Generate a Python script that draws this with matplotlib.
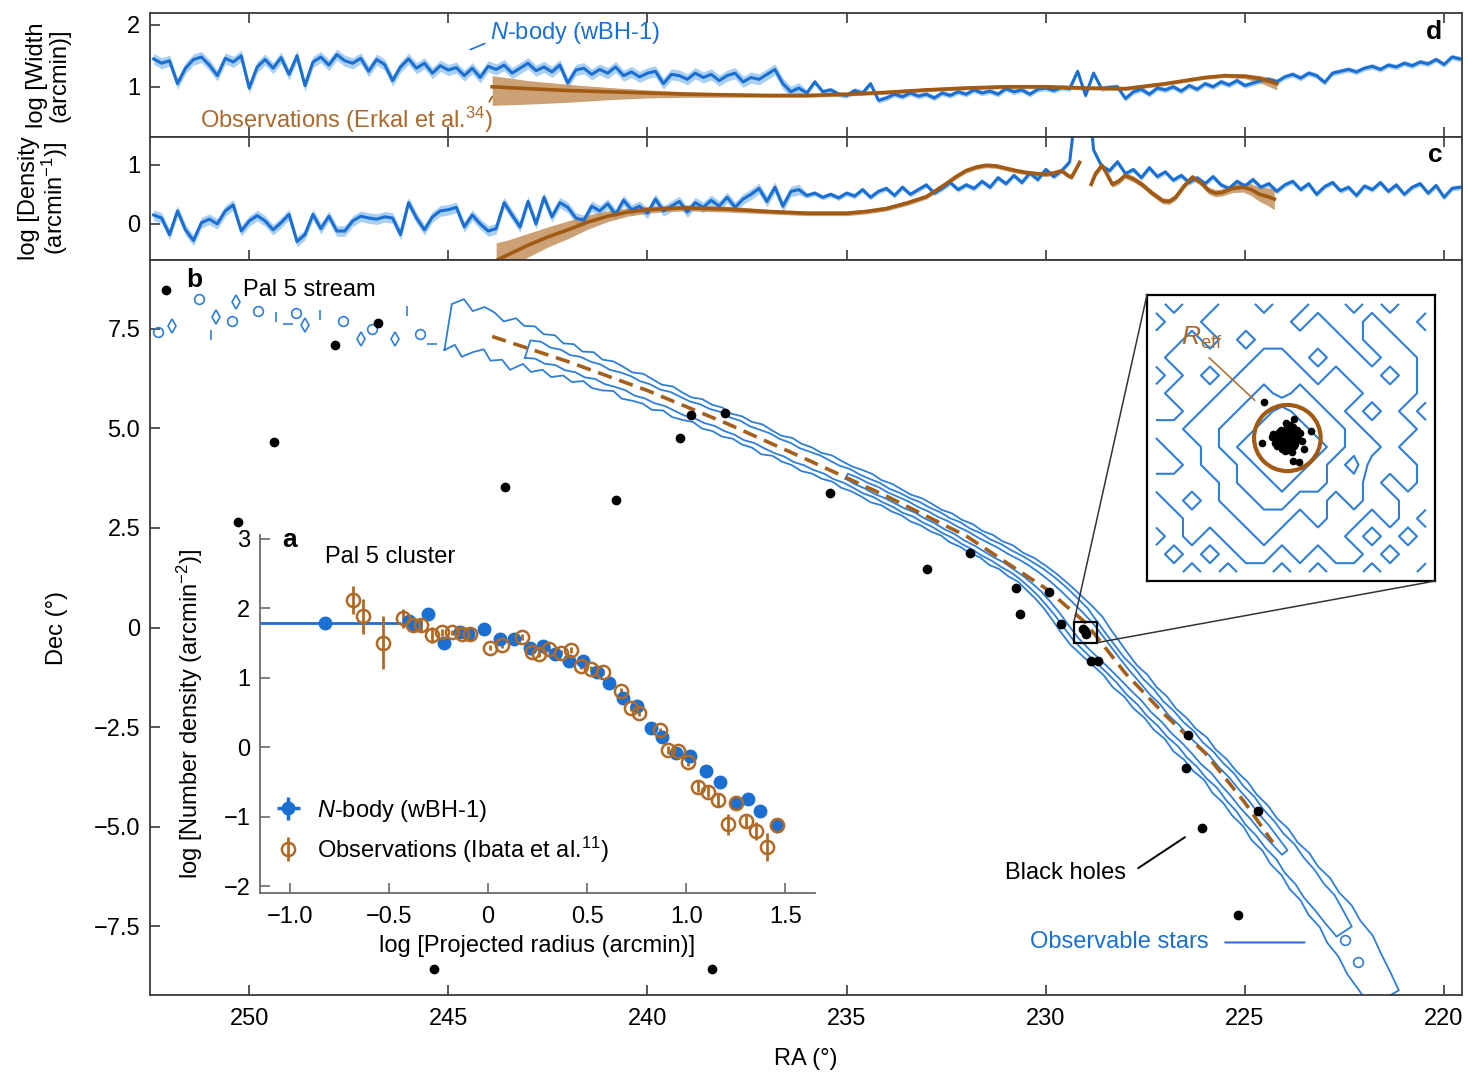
import numpy as np
import matplotlib
matplotlib.use("Agg")
import matplotlib.pyplot as plt
from matplotlib.patches import Rectangle, Circle, ConnectionPatch

plt.rcParams['font.family'] = ['Liberation Sans', 'DejaVu Sans']
plt.rcParams['mathtext.fontset'] = 'custom'
plt.rcParams['mathtext.rm'] = 'Liberation Sans'
plt.rcParams['mathtext.it'] = 'Liberation Sans:italic'
plt.rcParams['font.size'] = 17
plt.rcParams['axes.edgecolor'] = '#3a3a3a'
plt.rcParams['axes.linewidth'] = 1.3
plt.rcParams['xtick.direction'] = 'in'
plt.rcParams['ytick.direction'] = 'in'
plt.rcParams['xtick.color'] = '#3a3a3a'
plt.rcParams['ytick.color'] = '#3a3a3a'
plt.rcParams['xtick.labelcolor'] = 'black'
plt.rcParams['ytick.labelcolor'] = 'black'

BLUE = '#1a6fd1'
BLUE_BAND = '#a9cff3'
CONT = '#2f7fd6'
BROWN = '#a05a14'
BROWN_BAND = '#c08a52'
BROWN_TXT = '#a86a2e'

# ---------------- panels d / c : N-body profiles (RA grid 252.4 ... 219.6, step 0.2)
ra_grid = np.round(np.arange(252.4, 219.5, -0.2), 1)

nbody_width = [
    1.45, 1.38, 1.42, 1.05, 1.30, 1.44, 1.48, 1.35, 1.18, 1.46,
    1.40, 1.50, 0.98, 1.32, 1.44, 1.30, 1.47, 1.20, 1.50, 1.02,
    1.40, 1.48, 1.35, 1.52, 1.42, 1.38, 1.46, 1.25, 1.44, 1.36,
    1.10, 1.32, 1.45, 1.30, 1.38, 1.22, 1.34, 1.27, 1.31, 1.18,
    1.30, 1.15, 1.33, 1.28, 1.35, 1.22, 1.30, 1.38, 1.26, 1.32,
    1.24, 1.35, 1.06, 1.27, 1.30, 1.20, 1.28, 1.22, 1.32, 1.18,
    1.24, 1.16, 1.22, 1.25, 1.05, 1.20, 1.18, 1.12, 1.22, 1.15,
    1.20, 1.10, 1.18, 1.22, 1.08, 1.15, 1.12, 1.20, 1.28, 1.05,
    0.92, 0.98, 0.90, 1.08, 0.92, 0.95, 0.88, 0.86, 0.94, 0.90,
    1.05, 0.78, 0.82, 0.88, 0.84, 0.90, 0.85, 0.88, 0.82, 0.90,
    0.86, 0.92, 0.88, 0.95, 0.90, 0.93, 0.88, 0.97, 0.92, 0.95,
    0.88, 0.96, 0.98, 0.94, 0.99, 0.97, 1.25, 0.86, 1.22, 0.97,
    0.99, 1.00, 0.81, 0.92, 0.96, 0.88, 0.98, 0.95, 1.00, 0.93,
    1.02, 0.96, 1.05, 1.00, 1.08, 1.03, 1.10, 1.02, 1.06, 1.10,
    1.12, 1.08, 1.16, 1.20, 1.14, 1.22, 1.18, 1.07, 1.22, 1.25,
    1.28, 1.24, 1.30, 1.33, 1.28, 1.35, 1.32, 1.38, 1.34, 1.40,
    1.37, 1.44, 1.36, 1.48, 1.45]

nbody_density = [
    0.15, 0.10, -0.18, 0.22, -0.10, -0.28, 0.02, 0.08, 0.00, 0.22,
    0.32, -0.12, 0.05, 0.14, 0.05, -0.10, 0.02, 0.16, -0.30, -0.18,
    0.16, -0.08, 0.13, -0.12, -0.12, 0.05, 0.13, 0.10, 0.08, 0.12,
    0.10, -0.18, 0.36, 0.10, -0.10, 0.12, 0.22, 0.24, 0.28, -0.05,
    0.15, 0.00, -0.12, -0.08, 0.36, 0.15, -0.05, 0.38, 0.00, 0.45,
    0.12, 0.36, 0.28, 0.10, 0.06, 0.30, 0.22, 0.34, 0.16, 0.40,
    0.24, 0.30, 0.18, 0.42, 0.22, 0.30, 0.38, 0.20, 0.36, 0.28,
    0.40, 0.30, 0.45, 0.28, 0.42, 0.50, 0.60, 0.38, 0.62, 0.30,
    0.55, 0.58, 0.48, 0.52, 0.45, 0.50, 0.44, 0.52, 0.47, 0.58,
    0.45, 0.55, 0.60, 0.48, 0.62, 0.50, 0.58, 0.66, 0.52, 0.60,
    0.70, 0.58, 0.66, 0.60, 0.72, 0.62, 0.78, 0.68, 0.82, 0.70,
    0.86, 0.75, 0.92, 0.80, 0.90, 1.05, 2.20, 2.80, 1.25, 0.98,
    0.90, 1.05, 0.85, 0.92, 0.78, 0.95, 0.80, 0.88, 0.74, 0.82,
    0.70, 0.78, 0.68, 0.80, 0.66, 0.60, 0.72, 0.64, 0.75, 0.62,
    0.68, 0.55, 0.66, 0.72, 0.58, 0.68, 0.50, 0.63, 0.70, 0.56,
    0.62, 0.48, 0.64, 0.58, 0.70, 0.55, 0.66, 0.50, 0.62, 0.68,
    0.52, 0.65, 0.45, 0.60, 0.62]

# uncertainty of the N-body curves (tail beyond RA 236 is noisier)
nbody_err_tail, nbody_err_core = 0.09, 0.045

# observations, Erkal et al. (width)
ra_obs_w = [243.9, 243.0, 242.0, 241.0, 240.0, 239.0, 238.0, 237.0, 236.0, 235.0, 234.0, 233.0,
            232.0, 231.0, 230.0, 229.0, 228.0, 227.0, 226.5, 226.0, 225.5, 225.0, 224.6, 224.2]
obs_w = [1.00, 0.97, 0.94, 0.92, 0.90, 0.88, 0.87, 0.86, 0.86, 0.88, 0.91, 0.95,
         0.98, 1.00, 1.00, 0.98, 0.97, 1.05, 1.10, 1.15, 1.18, 1.17, 1.13, 1.05]
obs_w_hi = [1.18, 1.10, 1.04, 0.99, 0.95, 0.92, 0.90, 0.89, 0.89, 0.91, 0.94, 0.98,
            1.01, 1.03, 1.03, 1.01, 1.00, 1.08, 1.13, 1.18, 1.21, 1.21, 1.18, 1.13]
obs_w_lo = [0.70, 0.72, 0.75, 0.79, 0.82, 0.83, 0.83, 0.83, 0.83, 0.85, 0.88, 0.92,
            0.95, 0.97, 0.97, 0.95, 0.94, 1.02, 1.07, 1.12, 1.15, 1.13, 1.06, 0.95]

# observations (density), trailing and leading side of the cluster
ra_obs_d1 = [243.8, 243.5, 243.0, 242.5, 242.0, 241.5, 241.0, 240.5, 240.0, 239.5, 239.0, 238.0,
             237.0, 236.0, 235.0, 234.5, 234.0, 233.5, 233.0, 232.75, 232.5, 232.25, 232.0, 231.75,
             231.5, 231.25, 231.0, 230.75, 230.5, 230.25, 230.0, 229.8, 229.6, 229.45, 229.35, 229.15]
obs_d1 = [-0.62, -0.52, -0.36, -0.22, -0.10, 0.03, 0.13, 0.20, 0.24, 0.26, 0.27, 0.25,
          0.21, 0.18, 0.18, 0.21, 0.26, 0.35, 0.46, 0.57, 0.68, 0.80, 0.90, 0.96,
          0.99, 0.98, 0.94, 0.90, 0.87, 0.85, 0.84, 0.86, 0.90, 0.82, 0.79, 1.04]
err_d1 = [0.30, 0.25, 0.20, 0.17, 0.15, 0.12, 0.09, 0.07, 0.06, 0.05, 0.05, 0.05,
          0.04, 0.04, 0.04, 0.04, 0.04, 0.04, 0.04, 0.04, 0.04, 0.04, 0.04, 0.04,
          0.04, 0.04, 0.04, 0.04, 0.04, 0.04, 0.04, 0.04, 0.04, 0.04, 0.04, 0.04]
ra_obs_d2 = [228.86, 228.75, 228.59, 228.47, 228.33, 228.17, 228.01, 227.8, 227.59, 227.33, 227.06,
             226.9, 226.74, 226.53, 226.32, 226.11, 225.9, 225.74, 225.58, 225.31, 225.05, 224.84,
             224.63, 224.42, 224.26]
obs_d2 = [0.67, 0.85, 0.99, 0.85, 0.67, 0.72, 0.82, 0.76, 0.67, 0.52, 0.39,
          0.38, 0.45, 0.64, 0.79, 0.70, 0.56, 0.52, 0.53, 0.60, 0.62, 0.58,
          0.50, 0.46, 0.42]
err_d2 = [0.05, 0.05, 0.05, 0.05, 0.05, 0.05, 0.05, 0.05, 0.05, 0.05, 0.05,
          0.05, 0.05, 0.05, 0.05, 0.05, 0.06, 0.06, 0.06, 0.07, 0.08, 0.10,
          0.12, 0.15, 0.18]

# ---------------- panel b : stream on the sky (track every 0.25 deg of RA, 245.0 ... 221.5)
track_ra = np.round(np.arange(245.0, 221.4, -0.25), 2)
track_dec = [7.58, 7.54, 7.48, 7.42, 7.35, 7.27, 7.18, 7.10, 7.02, 6.94,
             6.85, 6.76, 6.67, 6.59, 6.50, 6.41, 6.31, 6.22, 6.12, 6.02,
             5.92, 5.82, 5.72, 5.62, 5.52, 5.42, 5.32, 5.22, 5.11, 5.01,
             4.90, 4.79, 4.68, 4.57, 4.46, 4.35, 4.24, 4.13, 4.02, 3.91,
             3.80, 3.68, 3.56, 3.44, 3.32, 3.20, 3.08, 2.96, 2.83, 2.70,
             2.57, 2.44, 2.30, 2.16, 2.02, 1.88, 1.74, 1.59, 1.43, 1.24,
             1.03, 0.78, 0.51, 0.22, -0.08, -0.37, -0.65, -0.93, -1.21, -1.48,
             -1.75, -2.02, -2.29, -2.55, -2.81, -3.06, -3.32, -3.58, -3.86, -4.15,
             -4.45, -4.75, -5.05, -5.35, -5.65, -5.96, -6.27, -6.59, -6.92, -7.27,
             -7.63, -8.02, -8.45, -8.88, -9.32]
nan = np.nan
# half widths (deg) of the star-count contours on each side of the track
w_out_a = [0.62, 0.45, 0.70, 0.52, 0.38, 0.60, 0.48, 0.66, 0.42, 0.55,
           0.40, 0.50, 0.36, 0.45, 0.33, 0.42, 0.38, 0.30, 0.40, 0.35,
           0.32, 0.38, 0.29, 0.36, 0.33, 0.28, 0.35, 0.31, 0.34, 0.29,
           0.33, 0.30, 0.36, 0.28, 0.32, 0.30, 0.34, 0.29, 0.31, 0.27,
           0.32, 0.29, 0.30, 0.33, 0.28, 0.31, 0.29, 0.33, 0.30, 0.32,
           0.29, 0.34, 0.31, 0.33, 0.30, 0.35, 0.32, 0.36, 0.34, 0.38,
           0.40, 0.42, 0.46, 0.50, 0.52, 0.48, 0.44, 0.40, 0.43, 0.38,
           0.41, 0.37, 0.40, 0.36, 0.42, 0.38, 0.41, 0.37, 0.43, 0.39,
           0.42, 0.38, 0.44, 0.40, 0.46, 0.42, 0.48, 0.44, 0.50, 0.45,
           0.52, 0.47, 0.50, 0.45, 0.40]
w_out_b = [0.55, 0.72, 0.48, 0.65, 0.58, 0.44, 0.62, 0.50, 0.57, 0.45,
           0.52, 0.40, 0.47, 0.36, 0.44, 0.34, 0.40, 0.36, 0.31, 0.38,
           0.34, 0.30, 0.36, 0.31, 0.28, 0.34, 0.30, 0.33, 0.28, 0.32,
           0.29, 0.34, 0.30, 0.27, 0.33, 0.29, 0.31, 0.28, 0.33, 0.30,
           0.28, 0.31, 0.33, 0.29, 0.32, 0.30, 0.28, 0.32, 0.31, 0.29,
           0.33, 0.30, 0.34, 0.31, 0.35, 0.33, 0.37, 0.34, 0.38, 0.40,
           0.42, 0.45, 0.48, 0.52, 0.55, 0.50, 0.46, 0.42, 0.39, 0.42,
           0.38, 0.41, 0.37, 0.40, 0.38, 0.42, 0.37, 0.40, 0.38, 0.42,
           0.39, 0.43, 0.40, 0.45, 0.41, 0.47, 0.43, 0.49, 0.45, 0.52,
           0.48, 0.54, 0.49, 0.46, 0.42]
w_mid_a = [nan] * 8 + [0.26, 0.20, 0.24, 0.18, 0.22, 0.19, 0.23, 0.18, 0.21, 0.19,
                       0.17, 0.21, 0.18, 0.20, 0.17, 0.19, 0.21, 0.18, 0.20, 0.17,
                       0.19, 0.18, 0.21, 0.17, 0.19, 0.20, 0.18, 0.21, 0.18, 0.19,
                       0.17, 0.20, 0.18, 0.19, 0.21, 0.18, 0.20, 0.19, 0.22, 0.19,
                       0.21, 0.20, 0.22, 0.21, 0.23, 0.22, 0.24, 0.23, 0.25, 0.24,
                       0.26, 0.28, 0.30, 0.32, 0.34, 0.37, 0.39, 0.36, 0.33, 0.30,
                       0.28, 0.30, 0.27, 0.29, 0.26, 0.28, 0.25, 0.29, 0.27, 0.30,
                       0.26, 0.29, 0.27, 0.31, 0.28, 0.30, 0.27, 0.32, 0.29, 0.33,
                       0.30, 0.28, 0.24] + [nan] * 4
w_mid_b = [nan] * 8 + [0.20, 0.25, 0.19, 0.23, 0.18, 0.22, 0.19, 0.21, 0.17, 0.20,
                       0.21, 0.18, 0.20, 0.17, 0.21, 0.19, 0.17, 0.20, 0.18, 0.21,
                       0.18, 0.20, 0.17, 0.19, 0.21, 0.18, 0.20, 0.17, 0.19, 0.21,
                       0.19, 0.17, 0.20, 0.18, 0.19, 0.21, 0.18, 0.20, 0.19, 0.21,
                       0.20, 0.22, 0.20, 0.23, 0.21, 0.24, 0.22, 0.25, 0.24, 0.26,
                       0.27, 0.30, 0.32, 0.35, 0.37, 0.40, 0.37, 0.34, 0.31, 0.28,
                       0.30, 0.27, 0.29, 0.26, 0.29, 0.27, 0.30, 0.26, 0.29, 0.27,
                       0.30, 0.27, 0.31, 0.28, 0.30, 0.28, 0.32, 0.29, 0.31, 0.28,
                       0.32, 0.27, 0.22] + [nan] * 4
w_in = [nan] * 40 + [0.07, 0.09, 0.08, 0.10, 0.08, 0.09, 0.10, 0.08, 0.10, 0.09,
                     0.11, 0.10, 0.12, 0.11, 0.12, 0.13, 0.12, 0.14, 0.15, 0.16,
                     0.17, 0.19, 0.21, 0.24, 0.26, 0.24, 0.21, 0.18, 0.16, 0.15,
                     0.13, 0.15, 0.12, 0.14, 0.12, 0.13, 0.15, 0.12, 0.14, 0.13,
                     0.14, 0.12, 0.13, 0.11, 0.09] + [nan] * 10

# isolated fragments of the far tails
frag_ra = [252.28, 251.93, 251.25, 250.95, 250.83, 250.43, 250.33, 249.77, 249.32, 249.02,
           248.82, 248.59, 248.22, 247.64, 247.19, 246.91, 246.34, 245.71, 245.41, 246.05,
           222.49, 222.16]
frag_dec = [7.41, 7.56, 8.24, 7.34, 7.81, 7.71, 8.17, 7.94, 7.79, 7.61,
            7.89, 7.59, 7.84, 7.69, 7.24, 7.49, 7.24, 7.36, 7.11, 7.95,
            -7.84, -8.39]
frag_marker = ['o', 'd', 'o', '|', 'd', 'o', 'd', 'o', '|', '_', 'o', 'd', '|', 'o', 'd', 'o',
               'd', 'o', '_', '|', 'o', 'o']

# observed stream track (Erkal et al.)
obs_track_ra = [243.9, 242.0, 240.0, 238.0, 236.0, 234.0, 232.0, 230.0, 229.0, 228.0, 227.0, 226.0, 225.0, 224.3]
obs_track_dec = [7.31, 6.68, 5.95, 5.12, 4.22, 3.30, 2.30, 0.98, 0.12, -1.15, -2.20, -3.15, -4.40, -5.40]

# black holes
bh_ra = [252.08, 249.37, 250.28, 247.84, 246.76, 243.57, 240.79, 245.36, 238.38, 239.18, 238.91,
         238.05, 235.42, 232.98, 231.90, 230.75, 230.65, 229.92, 229.62, 229.02, 229.06, 228.98,
         228.87, 228.69, 226.43, 226.48, 224.67, 226.08, 225.18]
bh_dec = [8.47, 4.65, 2.64, 7.09, 7.66, 3.52, 3.19, -8.57, -8.57, 4.77, 5.33,
          5.38, 3.37, 1.48, 1.88, 0.98, 0.33, 0.90, 0.10, -0.10, -0.04, -0.16,
          -0.83, -0.85, -2.69, -3.52, -4.62, -5.03, -7.21]

box_ra = [229.29, 228.71]
box_dec = [0.15, -0.38]

# ---------------- panel a : surface density profile
nb_logr = [-0.82, -0.40, -0.37, -0.30, -0.22, -0.14, -0.10, -0.02, 0.06, 0.13, 0.21, 0.28, 0.34, 0.41, 0.48,
           0.55, 0.61, 0.68, 0.75, 0.82, 0.88, 0.95, 1.02, 1.10, 1.17, 1.25, 1.31, 1.37, 1.46]
nb_logd = [1.78, 1.82, 1.75, 1.91, 1.50, 1.65, 1.62, 1.70, 1.55, 1.56, 1.43, 1.46, 1.34, 1.24, 1.24,
           1.08, 0.92, 0.71, 0.59, 0.27, 0.15, -0.09, -0.13, -0.35, -0.50, -0.80, -0.74, -0.92, -1.14]
nb_first_xerr = [0.33, 0.38]

ib_logr = [-0.68, -0.63, -0.53, -0.43, -0.38, -0.34, -0.28, -0.23, -0.18, -0.13, -0.09, 0.01, 0.07,
           0.17, 0.22, 0.26, 0.31, 0.37, 0.42, 0.47, 0.52, 0.58, 0.67, 0.72, 0.76, 0.87, 0.91, 0.96,
           1.01, 1.06, 1.11, 1.16, 1.21, 1.25, 1.30, 1.35, 1.41, 1.46]
ib_logd = [2.11, 1.88, 1.50, 1.85, 1.75, 1.76, 1.61, 1.65, 1.65, 1.62, 1.62, 1.43, 1.47,
           1.58, 1.37, 1.34, 1.41, 1.36, 1.40, 1.17, 1.12, 1.08, 0.81, 0.56, 0.49, 0.24, -0.04, -0.06,
           -0.21, -0.57, -0.64, -0.76, -1.11, -0.81, -1.07, -1.21, -1.44, -1.12]
ib_err = [0.20, 0.25, 0.38, 0.13, 0.10, 0.10, 0.12, 0.05, 0.04, 0.04, 0.04, 0.04, 0.04,
          0.04, 0.04, 0.04, 0.04, 0.04, 0.04, 0.04, 0.04, 0.04, 0.04, 0.04, 0.04, 0.04, 0.06, 0.04,
          0.06, 0.08, 0.08, 0.10, 0.15, 0.06, 0.10, 0.13, 0.20, 0.04]

# ---------------- zoom on the cluster: binned star counts (rows top -> bottom)
zoom_counts = [
    [0, 1, 0, 0, 1, 1, 0, 1, 1, 0, 0, 1, 0, 1, 0, 0],
    [1, 0, 0, 1, 1, 1, 1, 1, 0, 1, 0, 0, 1, 0, 0, 1],
    [0, 0, 1, 0, 1, 2, 1, 1, 1, 1, 1, 0, 1, 1, 0, 0],
    [0, 1, 1, 1, 1, 1, 2, 2, 1, 2, 1, 1, 0, 1, 1, 0],
    [1, 0, 1, 2, 1, 2, 2, 2, 2, 1, 2, 1, 1, 2, 1, 0],
    [0, 1, 1, 1, 2, 2, 3, 2, 3, 2, 2, 2, 1, 1, 1, 0],
    [0, 0, 1, 2, 2, 3, 3, 4, 3, 3, 2, 1, 2, 1, 0, 1],
    [1, 1, 2, 2, 3, 3, 4, 5, 4, 3, 3, 2, 1, 1, 1, 0],
    [0, 1, 1, 2, 3, 4, 5, 5, 5, 4, 3, 2, 2, 1, 0, 0],
    [0, 0, 1, 2, 2, 3, 4, 5, 4, 3, 2, 3, 1, 1, 1, 0],
    [1, 1, 1, 1, 2, 3, 3, 4, 3, 3, 2, 2, 1, 0, 1, 0],
    [0, 1, 2, 1, 2, 2, 3, 3, 2, 2, 1, 2, 1, 1, 0, 0],
    [0, 0, 1, 1, 1, 2, 2, 2, 1, 2, 1, 1, 0, 1, 0, 1],
    [1, 0, 1, 0, 1, 1, 2, 1, 1, 1, 1, 0, 1, 0, 1, 0],
    [0, 1, 0, 1, 0, 1, 1, 0, 1, 0, 1, 1, 0, 1, 0, 0],
    [0, 0, 1, 0, 1, 0, 0, 1, 0, 1, 0, 0, 1, 0, 0, 1]]
zoom_center = (7.8, 8.0)
reff = 1.85
zbh_dx = [0.0, 0.2, -0.2, 0.1, -0.1, 0.3, -0.3, 0.15, -0.15, 0.05, 0.25, -0.25, 0.4, -0.4, 0.35, -0.35,
          0.1, -0.05, 0.2, -0.2, 0.5, -0.5, 0.45, -0.45, 0.6, -0.6, 0.3, -0.3, 0.0, 0.0, 0.55, -0.55,
          0.15, -0.15, 0.7, -0.7, 0.25, -0.1, 0.8, -0.85, 0.38, 0.34, 0.67, 1.3, -1.4, -1.3, -0.8, 0.9]
zbh_dy = [0.0, 0.1, -0.1, 0.3, -0.3, -0.15, 0.15, -0.35, 0.35, 0.5, 0.4, -0.4, 0.05, -0.05, -0.45, 0.45,
          -0.55, 0.2, -0.2, 0.25, 0.2, -0.2, -0.35, 0.35, -0.05, 0.1, 0.6, -0.6, 0.65, -0.65, 0.45, -0.45,
          0.75, -0.7, 0.3, -0.3, -0.8, 0.85, -0.15, 0.05, 1.04, -1.26, -1.33, 0.4, -0.3, 2.0, 0.25, -0.6]

# ======================================================================
fig = plt.figure(figsize=(14.68, 10.77), dpi=100)
ax_d = fig.add_axes([0.1022, 0.8728, 0.8937, 0.1151])
ax_c = fig.add_axes([0.1022, 0.7586, 0.8937, 0.1142])
ax_b = fig.add_axes([0.1022, 0.0761, 0.8937, 0.6825])
ax_a = fig.add_axes([0.1771, 0.1708, 0.3781, 0.3324])
ax_z = fig.add_axes([0.7813, 0.4605, 0.1962, 0.2656])

XLIM = (252.49, 219.55)
err_nb = np.where(ra_grid > 236, nbody_err_tail, nbody_err_core)

# ---- d
wd = np.array(nbody_width)
ax_d.fill_between(ra_grid, wd - err_nb, wd + err_nb, color=BLUE_BAND, lw=0)
ax_d.plot(ra_grid, wd, color=BLUE, lw=2.2)
ax_d.fill_between(ra_obs_w, obs_w_lo, obs_w_hi, color=BROWN_BAND, alpha=0.8, lw=0)
ax_d.plot(ra_obs_w, obs_w, color=BROWN, lw=2.6)
ax_d.set_ylim(0.19, 2.19)
ax_d.set_yticks([1, 2])
ax_d.annotate('$N$-body (wBH-1)', xy=(244.45, 1.6), xytext=(243.95, 1.86), color=BLUE,
              va='center', ha='left',
              arrowprops=dict(arrowstyle='-', color=BLUE, lw=1.2, relpos=(0, 0.2), shrinkA=2, shrinkB=0))
ax_d.annotate('Observations (Erkal et al.$^{34}$)', xy=(243.9, 0.84), xytext=(251.23, 0.47),
              color=BROWN_TXT, va='center', ha='left',
              arrowprops=dict(arrowstyle='-', color=BROWN, lw=1.2, relpos=(0.93, 0.15), shrinkA=0, shrinkB=0))
ax_d.text(0.985, 0.85, 'd', transform=ax_d.transAxes, fontsize=19, fontweight='bold', ha='right', va='center')
ax_d.set_ylabel('log [Width\n(arcmin)]', linespacing=1.0)
ax_d.yaxis.set_label_coords(-0.061, 0.5)

# ---- c
dd = np.array(nbody_density)
ax_c.fill_between(ra_grid, dd - err_nb, dd + err_nb, color=BLUE_BAND, lw=0)
ax_c.plot(ra_grid, dd, color=BLUE, lw=2.2)
for ra_o, v_o, e_o in [(ra_obs_d1, obs_d1, err_d1), (ra_obs_d2, obs_d2, err_d2)]:
    v_o = np.array(v_o); e_o = np.array(e_o)
    ax_c.fill_between(ra_o, v_o - e_o, v_o + e_o, color=BROWN_BAND, alpha=0.8, lw=0)
    ax_c.plot(ra_o, v_o, color=BROWN, lw=2.6)
ax_c.set_ylim(-0.61, 1.47)
ax_c.set_yticks([0, 1])
ax_c.text(0.985, 0.85, 'c', transform=ax_c.transAxes, fontsize=19, fontweight='bold', ha='right', va='center')
ax_c.set_ylabel('log [Density\n(arcmin$^{-1}$)]', linespacing=1.0)
ax_c.yaxis.set_label_coords(-0.061, 0.5)

for ax in (ax_d, ax_c):
    ax.set_xlim(*XLIM)
    ax.set_xticks([250, 245, 240, 235, 230, 225, 220])
    ax.tick_params(axis='x', top=True, bottom=True, labelbottom=False, length=7, width=1.2)
    ax.tick_params(axis='y', length=7, width=1.2, pad=7)

# ---- b
tx = np.array(track_ra); ty = np.array(track_dec)
gx = np.gradient(tx); gy = np.gradient(ty)
gn = np.hypot(gx, gy)
nx, ny = -gy / gn, gx / gn


def contour_loop(w_a, w_b):
    w_a = np.asarray(w_a, float); w_b = np.asarray(w_b, float)
    ok = ~np.isnan(w_a)
    ax_ = tx[ok] + w_a[ok] * nx[ok]; ay_ = ty[ok] + w_a[ok] * ny[ok]
    bx_ = tx[ok] - w_b[ok] * nx[ok]; by_ = ty[ok] - w_b[ok] * ny[ok]
    return np.r_[ax_, bx_[::-1], ax_[:1]], np.r_[ay_, by_[::-1], ay_[:1]]


for wa, wb in [(w_out_a, w_out_b), (w_mid_a, w_mid_b), (w_in, w_in)]:
    px, py = contour_loop(wa, wb)
    ax_b.plot(px, py, color=CONT, lw=1.3)
for r, d, m in zip(frag_ra, frag_dec, frag_marker):
    ax_b.plot(r, d, marker=m, ms=7, mfc='none', mec=CONT, mew=1.2, ls='none')
ax_b.plot(obs_track_ra, obs_track_dec, color='#a3601c', lw=2.6, dashes=(4, 2.2))
ax_b.plot(bh_ra, bh_dec, 'o', color='black', ms=6, zorder=5)
ax_b.add_patch(Rectangle((box_ra[1], box_dec[1]), box_ra[0] - box_ra[1], box_dec[0] - box_dec[1],
                         fill=False, ec='black', lw=1.6, zorder=6))

ax_b.set_xlim(*XLIM)
ax_b.set_ylim(-9.23, 9.23)
ax_b.set_xticks([250, 245, 240, 235, 230, 225, 220])
ax_b.set_yticks([7.5, 5.0, 2.5, 0, -2.5, -5.0, -7.5])
ax_b.set_yticklabels(['7.5', '5.0', '2.5', '0', '\u22122.5', '\u22125.0', '\u22127.5'])
ax_b.tick_params(axis='x', length=7, width=1.2, pad=9)
ax_b.tick_params(axis='y', length=7, width=1.2, pad=7)
ax_b.set_xlabel('RA (°)')
ax_b.xaxis.set_label_coords(0.5, -0.072)
ax_b.set_ylabel('Dec (°)')
ax_b.yaxis.set_label_coords(-0.0625, 0.5)
ax_b.text(0.034, 0.973, 'b', transform=ax_b.transAxes, fontsize=19, fontweight='bold', ha='center', va='center')
ax_b.text(250.15, 8.47, 'Pal 5 stream', ha='left', va='center')
ax_b.annotate('Black holes', xy=(226.33, -5.15), xytext=(231.02, -6.16), ha='left', va='center',
              arrowprops=dict(arrowstyle='-', color='black', lw=1.4, relpos=(1.0, 0.35), shrinkA=8, shrinkB=6))
ax_b.annotate('Observable stars', xy=(223.5, -7.91), xytext=(230.4, -7.91), ha='left', va='center',
              color=BLUE,
              arrowprops=dict(arrowstyle='-', color=BLUE, lw=1.4, relpos=(1.0, 0.5), shrinkA=10, shrinkB=0))

# ---- a (inset)
ax_a.patch.set_alpha(0)
ax_a.errorbar(nb_logr[0], nb_logd[0], xerr=[[nb_first_xerr[0]], [nb_first_xerr[1]]], fmt='none',
              ecolor=BLUE, elinewidth=2)
ax_a.errorbar(nb_logr, nb_logd, fmt='o', color=BLUE, ms=9, mec=BLUE)
h_ib = ax_a.errorbar(ib_logr, ib_logd, yerr=ib_err, fmt='o', mfc='none', mec='#b06a26', ecolor='#b06a26',
                     ms=9.5, mew=1.8, elinewidth=2, capsize=0)
leg_nb = ax_a.errorbar([np.nan], [np.nan], xerr=[1], yerr=[1], fmt='o', color=BLUE, ms=9, elinewidth=2.5)
ax_a.legend([leg_nb, h_ib], ['$N$-body (wBH-1)', 'Observations (Ibata et al.$^{11}$)'],
            loc='lower left', bbox_to_anchor=(0.0, 0.04), frameon=False, handlelength=1.2,
            handletextpad=0.6, labelspacing=0.45, borderaxespad=0.2)
ax_a.set_xlim(-1.15, 1.65)
ax_a.set_ylim(-2.1, 3.05)
ax_a.set_xticks([-1.0, -0.5, 0, 0.5, 1.0, 1.5])
ax_a.set_xticklabels(['\u22121.0', '\u22120.5', '0', '0.5', '1.0', '1.5'])
ax_a.set_yticks([-2, -1, 0, 1, 2, 3])
ax_a.spines['top'].set_visible(False)
ax_a.spines['right'].set_visible(False)
for s in ('left', 'bottom'):
    ax_a.spines[s].set_color('#6a6a6a')
ax_a.tick_params(length=7, width=1.2, color='#6a6a6a')
ax_a.tick_params(axis='x', pad=9)
ax_a.tick_params(axis='y', pad=7)
ax_a.set_xlabel('log [Projected radius (arcmin)]')
ax_a.xaxis.set_label_coords(0.5, -0.117)
ax_a.set_ylabel('log [Number density (arcmin$^{-2}$)]')
ax_a.yaxis.set_label_coords(-0.099, 0.5)
ax_a.text(0.054, 0.985, 'a', transform=ax_a.transAxes, fontsize=19, fontweight='bold', ha='center', va='center')
ax_a.text(0.117, 0.94, 'Pal 5 cluster', transform=ax_a.transAxes, ha='left', va='center')

# ---- zoom on the cluster
zc = np.arange(16) + 0.5
ax_z.contour(zc, zc, np.array(zoom_counts)[::-1], levels=[0.5, 1.5, 2.5, 3.5], colors=CONT, linewidths=1.5)
ax_z.add_patch(Circle(zoom_center, reff, fill=False, ec=BROWN, lw=3, zorder=4))
ax_z.plot(zoom_center[0] + np.array(zbh_dx), zoom_center[1] + np.array(zbh_dy), 'o', color='black',
          ms=4.5, zorder=5)
ax_z.annotate('$R_{\\rm eff}$', xy=(6.0, 10.1), xytext=(1.9, 13.6), color=BROWN_TXT, fontsize=19,
              ha='left', va='center',
              arrowprops=dict(arrowstyle='-', color=BROWN_TXT, lw=1.1, relpos=(0.5, 0.0), shrinkA=4, shrinkB=0))
ax_z.set_xlim(0, 16)
ax_z.set_ylim(0, 16)
ax_z.set_xticks([]); ax_z.set_yticks([])
for s in ax_z.spines.values():
    s.set_color('black'); s.set_linewidth(1.6)

for xyA, xyB in [((box_ra[0], box_dec[0]), (0, 1)), ((box_ra[1], box_dec[1]), (1, 0))]:
    con = ConnectionPatch(xyA=xyA, coordsA=ax_b.transData, xyB=xyB, coordsB=ax_z.transAxes,
                          color='#333333', lw=1.1)
    fig.add_artist(con)

fig.savefig('out.png', dpi=100)
